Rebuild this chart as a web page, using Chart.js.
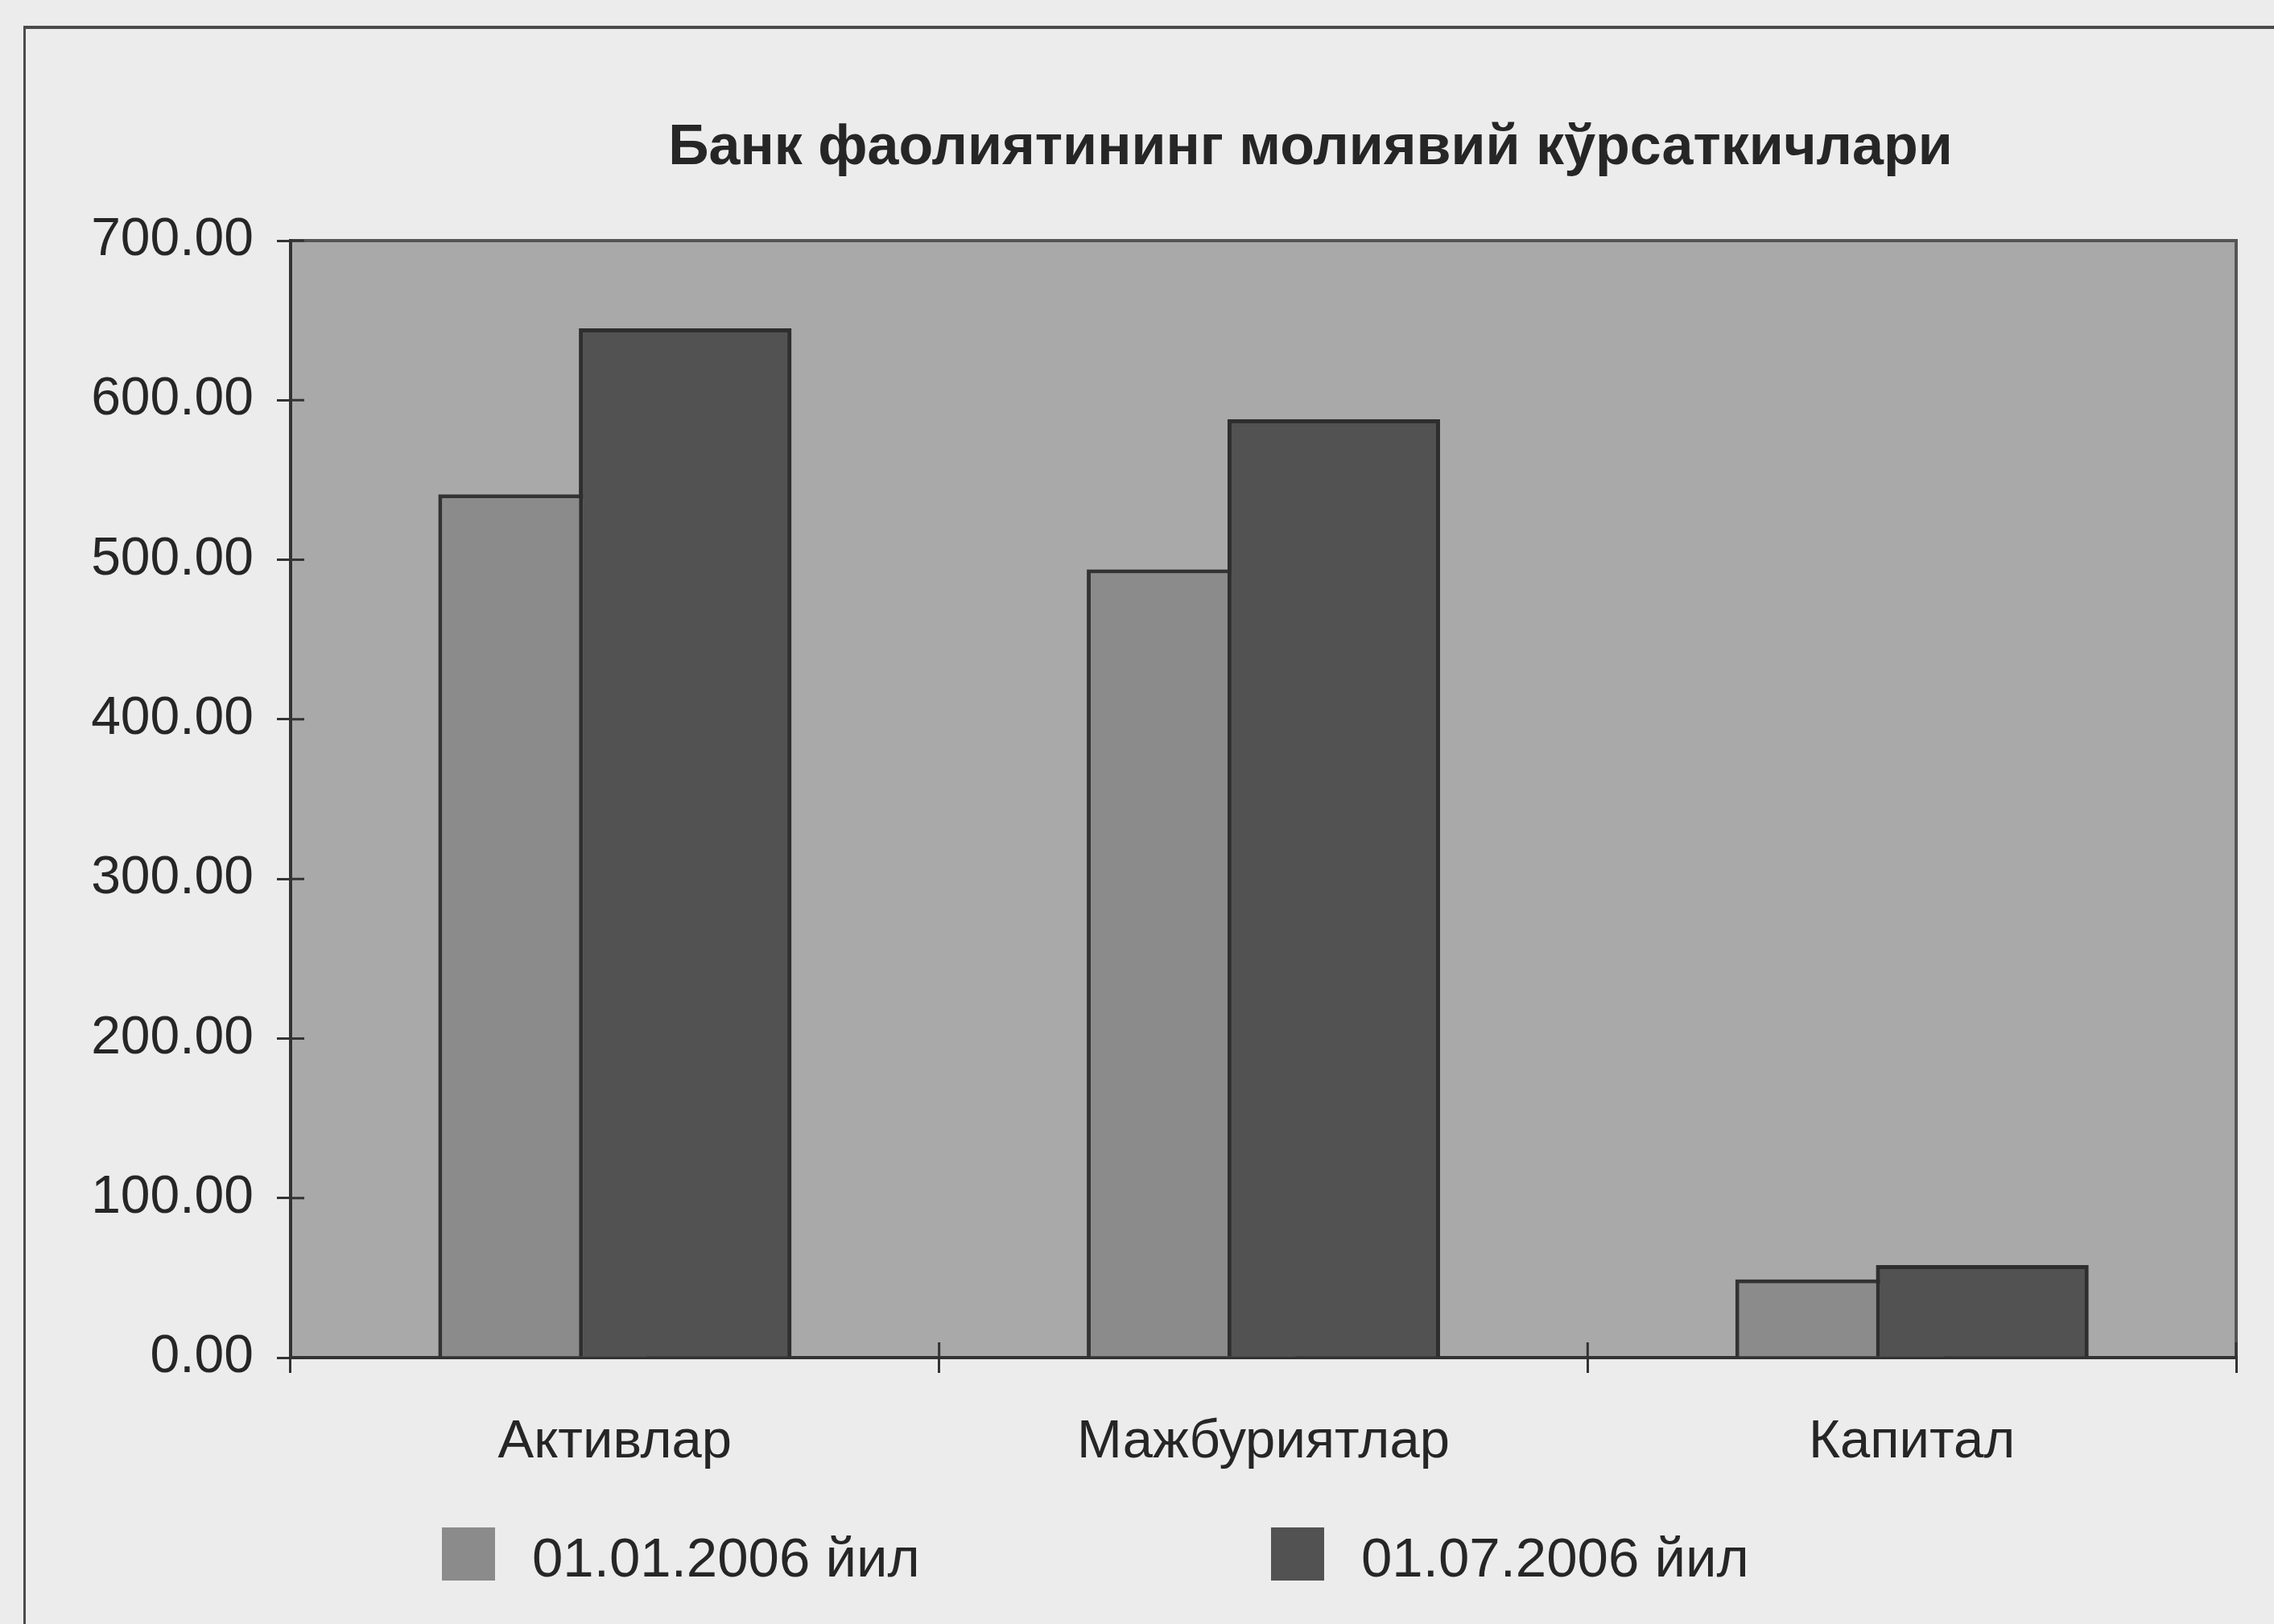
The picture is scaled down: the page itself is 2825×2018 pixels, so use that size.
<!DOCTYPE html>
<html><head><meta charset="utf-8">
<script src="https://cdn.jsdelivr.net/npm/chart.js@4/dist/chart.umd.min.js"></script>
<style>
html,body{margin:0;padding:0;background:#ececec;width:2825px;height:2018px;overflow:hidden}
#frame{position:absolute;left:29px;top:32px;width:2900px;height:2100px;border-left:3px solid #4a4a4a;border-top:4px solid #4a4a4a}
#c{position:absolute;left:0;top:0}
</style></head><body>
<div id="frame"></div>
<canvas id="c" width="2825" height="2018"></canvas>
<script>
// ---- data ----
const chartTitle = 'Банк фаолиятининг молиявий кўрсаткичлари';
const categories = ['Активлар', 'Мажбуриятлар', 'Капитал'];
const seriesNames = ['01.01.2006 йил', '01.07.2006 йил'];
const valuesJan2006 = [541, 494, 49];
const valuesJul2006 = [645, 588, 58];
const yMin = 0, yMax = 700, yStep = 100;

// ---- styles ----
const FONT = "'Liberation Sans', Arial, sans-serif";
const TEXT = '#262626';
const AXIS = '#333333';
const PLOT_BG = '#a9a9a9';
const COLORS = ['#8b8b8b', '#525252'];

const plotBg = {
  id: 'plotBg',
  beforeDraw(chart) {
    const {ctx, chartArea: a} = chart;
    ctx.save();
    ctx.fillStyle = PLOT_BG;
    ctx.fillRect(a.left, a.top, a.width, a.height);
    ctx.strokeStyle = '#555';
    ctx.lineWidth = 4;
    ctx.beginPath();
    ctx.moveTo(a.left, a.top); ctx.lineTo(a.right, a.top); ctx.lineTo(a.right, a.bottom);
    ctx.stroke();
    ctx.restore();
  }
};

// second series is drawn over the first (overlapping columns)
const overlap = {
  id: 'overlap',
  afterDatasetsDraw(chart) {
    const meta = chart.getDatasetMeta(1);
    if (meta.visible !== false) meta.controller.draw();
  }
};

// tick marks that cross the axes
const innerTicks = {
  id: 'innerTicks',
  afterDraw(chart) {
    const {ctx, chartArea: a, scales} = chart;
    ctx.save();
    ctx.strokeStyle = AXIS; ctx.lineWidth = 3;
    ctx.beginPath();
    scales.y.ticks.forEach((t, i) => {
      const py = scales.y.getPixelForTick(i);
      ctx.moveTo(a.left, py); ctx.lineTo(a.left + 17, py);
    });
    for (let i = 0; i <= categories.length; i++) {
      const px = scales.x.getPixelForValue(i - 0.5);
      ctx.moveTo(px, a.bottom); ctx.lineTo(px, a.bottom - 19);
    }
    ctx.stroke();
    ctx.restore();
  }
};

// title and legend placed as in the original
const titleLegend = {
  id: 'titleLegend',
  afterDraw(chart) {
    const ctx = chart.ctx;
    ctx.save();
    ctx.fillStyle = TEXT;
    ctx.font = 'bold 70px ' + FONT;
    ctx.textAlign = 'center';
    ctx.textBaseline = 'alphabetic';
    ctx.fillText(chartTitle, 1628, 204);
    const boxX = [549, 1579];
    chart.data.datasets.forEach((ds, i) => {
      ctx.fillStyle = ds.backgroundColor;
      ctx.fillRect(boxX[i], 1898, 66, 66);
      ctx.fillStyle = TEXT;
      ctx.font = '69px ' + FONT;
      ctx.textAlign = 'left';
      ctx.textBaseline = 'middle';
      ctx.fillText(ds.label, boxX[i] + 112, 1940);
    });
    ctx.restore();
  }
};

new Chart(document.getElementById('c'), {
  type: 'bar',
  data: {
    labels: categories,
    datasets: [
      {label: seriesNames[0], data: valuesJan2006, backgroundColor: COLORS[0], borderColor: '#333333', borderWidth: 5,
       categoryPercentage: 0.434, barPercentage: 1.51},
      {label: seriesNames[1], data: valuesJul2006, backgroundColor: COLORS[1], borderColor: '#2e2e2e', borderWidth: 5,
       categoryPercentage: 0.434, barPercentage: 1.51}
    ]
  },
  options: {
    responsive: false,
    animation: false,
    devicePixelRatio: 1,
    layout: {padding: {left: 0, right: 47, top: 299, bottom: 131}},
    plugins: {legend: {display: false}, title: {display: false}, tooltip: {enabled: false}},
    scales: {
      x: {
        grid: {offset: true, drawOnChartArea: false, drawTicks: true, tickLength: 19, color: AXIS, lineWidth: 3},
        border: {color: AXIS, width: 4},
        ticks: {font: {size: 67, family: FONT}, color: TEXT, padding: 46, maxRotation: 0},
        afterFit(s) { s.height = 200; }
      },
      y: {
        min: yMin, max: yMax,
        grid: {drawOnChartArea: false, drawTicks: true, tickLength: 17, color: AXIS, lineWidth: 3},
        border: {color: AXIS, width: 4},
        ticks: {stepSize: yStep, font: {size: 66, family: FONT}, color: TEXT, padding: 29,
                callback: v => Number(v).toFixed(2)},
        afterFit(s) { s.width = 361; }
      }
    }
  },
  plugins: [plotBg, overlap, innerTicks, titleLegend]
});
</script>
</body></html>
